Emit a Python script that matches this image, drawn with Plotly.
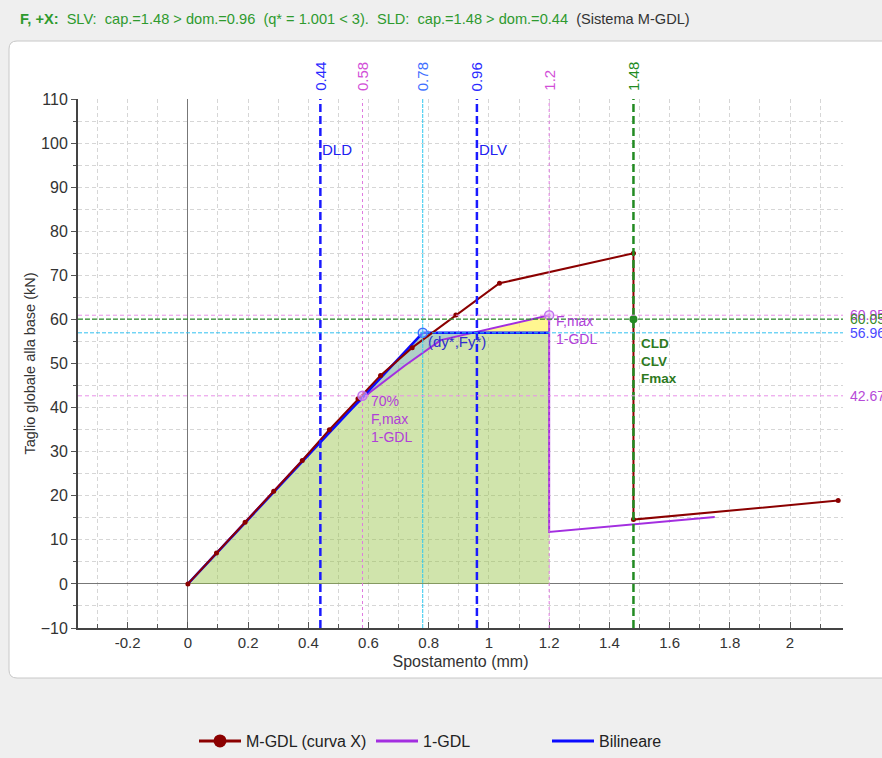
import numpy as np
import plotly.graph_objects as go

# ---------------- data ----------------
mgdl_x = [0, 0.095, 0.19, 0.285, 0.38, 0.47, 0.565, 0.64, 0.745, 0.89, 1.035, 1.48, 1.48, 2.16]
mgdl_y = [0, 7.0, 14.0, 21.0, 28.0, 35.0, 42.0, 47.3, 53.6, 61.0, 68.2, 75.0, 14.6, 18.9]

gdl1_x = [0, 0.46, 0.52, 0.605, 0.72, 0.84, 1.2, 1.2, 1.75]
gdl1_y = [0, 34.1, 38.4, 43.5, 49.5, 55.3, 60.95, 11.8, 15.2]

bil_x = [0, 0.78, 1.2]
bil_y = [0, 56.96, 56.96]

vline_pos = [0.44, 0.58, 0.78, 0.96, 1.2, 1.48]
vline_lbl = ["0.44", "0.58", "0.78", "0.96", "1.2", "1.48"]
vline_col = ["#2a2aff", "#d24fd8", "#3f6fff", "#2a2aff", "#d24fd8", "#228b22"]

hline_pos = [60.95, 60.05, 56.96, 42.67]
hline_lbl = ["60.95", "60.05", "56.96", "42.67"]
hline_txtcol = ["#b64ad8", "#3a8a2a", "#4a4aff", "#b64ad8"]

x_ticks = [-0.2, 0, 0.2, 0.4, 0.6, 0.8, 1, 1.2, 1.4, 1.6, 1.8, 2]
y_ticks = [-10, 0, 10, 20, 30, 40, 50, 60, 70, 80, 90, 100, 110]

dy_star, fy_star = 0.78, 56.96
f70_x, f70_y = 0.58, 42.67
fmax1_x, fmax1_y = 1.2, 60.95
cap_x, cap_y = 1.48, 60.05

# ---------------- geometry helpers ----------------
W, H = 882, 758
L, R, T, B = 78, 843, 99, 628
def xp(px): return (px - L) / (R - L)
def yp(py): return (B - py) / (B - T)

RED = "#8b0000"
PURP = "#a32ee0"
BLUE = "#0a0aff"

fig = go.Figure()

# green area under bilinear
fig.add_trace(go.Scatter(
    x=bil_x + [bil_x[-1], 0], y=bil_y + [0, 0], fill="toself", mode="none",
    fillcolor="rgba(150,195,70,0.45)", showlegend=False, hoverinfo="skip"))

# monotonic part of 1-GDL (before the drop)
g_x = np.array(gdl1_x[:7]); g_y = np.array(gdl1_y[:7])
grid = np.linspace(f70_x, 1.2, 400)
g_i = np.interp(grid, g_x, g_y)
b_i = np.interp(grid, bil_x, bil_y)
d = b_i - g_i
cross = grid[np.argmax(d < 0)]
m1 = grid <= cross
fig.add_trace(go.Scatter(
    x=list(grid[m1]) + list(grid[m1][::-1]), y=list(b_i[m1]) + list(g_i[m1][::-1]),
    fill="toself", mode="none", fillcolor="rgba(120,175,245,0.38)",
    showlegend=False, hoverinfo="skip"))
m2 = grid >= cross
fig.add_trace(go.Scatter(
    x=list(grid[m2]) + list(grid[m2][::-1]), y=list(g_i[m2]) + list(b_i[m2][::-1]),
    fill="toself", mode="none", fillcolor="rgba(255,240,70,0.6)",
    showlegend=False, hoverinfo="skip"))

# curves
fig.add_trace(go.Scatter(x=gdl1_x, y=gdl1_y, mode="lines", line=dict(color=PURP, width=2),
                         showlegend=False, hoverinfo="skip"))
fig.add_trace(go.Scatter(x=bil_x, y=bil_y, mode="lines", line=dict(color=BLUE, width=2.5),
                         showlegend=False, hoverinfo="skip"))
fig.add_trace(go.Scatter(x=mgdl_x, y=mgdl_y, mode="lines+markers",
                         line=dict(color=RED, width=2), marker=dict(color=RED, size=5),
                         showlegend=False, hoverinfo="skip"))

# special markers
fig.add_trace(go.Scatter(x=[f70_x, fmax1_x], y=[f70_y, fmax1_y], mode="markers",
                         marker=dict(size=9, color="rgba(230,190,250,0.6)",
                                     line=dict(color="#c070f0", width=1.5)),
                         showlegend=False, hoverinfo="skip"))
fig.add_trace(go.Scatter(x=[dy_star], y=[fy_star], mode="markers",
                         marker=dict(size=9, color="rgba(180,200,255,0.5)",
                                     line=dict(color="#3f6fff", width=1.5)),
                         showlegend=False, hoverinfo="skip"))
fig.add_trace(go.Scatter(x=[cap_x], y=[cap_y], mode="markers",
                         marker=dict(size=8, color="#228b22"),
                         showlegend=False, hoverinfo="skip"))

# legend-only traces
fig.add_trace(go.Scatter(x=[None], y=[None], mode="lines+markers", name="M-GDL (curva X)",
                         line=dict(color=RED, width=3), marker=dict(color=RED, size=13),
                         legend="legend"))
fig.add_trace(go.Scatter(x=[None], y=[None], mode="lines", name="1-GDL",
                         line=dict(color=PURP, width=3), legend="legend2"))
fig.add_trace(go.Scatter(x=[None], y=[None], mode="lines", name="Bilineare",
                         line=dict(color=BLUE, width=3), legend="legend3"))

shapes = []
# white rounded panel
x0, x1 = xp(9), xp(905)
y0, y1 = yp(678), yp(41)
rx, ry = 8 / (R - L), 8 / (B - T)
path = (f"M {x0+rx},{y1} L {x1},{y1} L {x1},{y0} L {x0+rx},{y0} "
        f"Q {x0},{y0} {x0},{y0+ry} L {x0},{y1-ry} Q {x0},{y1} {x0+rx},{y1} Z")
shapes.append(dict(type="path", path=path, xref="paper", yref="paper",
                   fillcolor="white", line=dict(color="#c8c8c8", width=1), layer="below"))

# vertical reference lines
vstyle = {
    0.44: dict(color="#1a1aff", width=2.5, dash="8px,4px"),
    0.58: dict(color="#e07ae0", width=1, dash="3px,3px"),
    0.78: dict(color="#30c8f0", width=1, dash="4px,1px"),
    0.96: dict(color="#1a1aff", width=2.5, dash="8px,4px"),
    1.2: dict(color="#e07ae0", width=1, dash="3px,3px"),
    1.48: dict(color="#228b22", width=2.5, dash="8px,4px"),
}
for v in vline_pos:
    shapes.append(dict(type="line", xref="x", yref="paper", x0=v, x1=v, y0=0, y1=1,
                       line=vstyle[v], layer="above"))

hstyle = {
    60.95: dict(color="#e890e8", width=1, dash="4px,3px"),
    60.05: dict(color="#2e8b2e", width=1.3, dash="5px,2px"),
    56.96: dict(color="#30c0f0", width=1, dash="4px,2px"),
    42.67: dict(color="#e890e8", width=1, dash="4px,3px"),
}
for h in hline_pos:
    shapes.append(dict(type="line", xref="paper", yref="y", x0=0, x1=1, y0=h, y1=h,
                       line=hstyle[h], layer="above"))

ann = []
FONT = "Liberation Sans, Arial, sans-serif"
# header
ann.append(dict(
    xref="paper", yref="paper", x=xp(18), y=yp(19), xanchor="left", yanchor="middle",
    showarrow=False, font=dict(family=FONT, size=14.6, color="#2e9a2e"),
    text=("<b>F, +X:</b>&nbsp;&nbsp;SLV:&nbsp;&nbsp;cap.=1.48 &gt; dom.=0.96&nbsp;&nbsp;(q* = 1.001 &lt; 3)."
          "&nbsp;&nbsp;SLD:&nbsp;&nbsp;cap.=1.48 &gt; dom.=0.44&nbsp;&nbsp;"
          "<span style='color:#333333'>(Sistema M-GDL)</span>")))

# top rotated labels for vertical lines
for v, lab, c in zip(vline_pos, vline_lbl, vline_col):
    ann.append(dict(xref="x", yref="paper", x=v, y=yp(93), xanchor="center", yanchor="bottom",
                    textangle=-90, showarrow=False, text=lab,
                    font=dict(family=FONT, size=15, color=c)))

# right labels for horizontal lines
for h, lab, c in zip(hline_pos, hline_lbl, hline_txtcol):
    ann.append(dict(xref="paper", yref="y", x=xp(848), y=h, xanchor="left", yanchor="middle",
                    showarrow=False, text=lab, font=dict(family=FONT, size=14, color=c)))

# in-plot labels
ann.append(dict(xref="x", yref="y", x=0.44, y=98.5, xanchor="left", yanchor="middle",
                showarrow=False, text="DLD", font=dict(family=FONT, size=15, color="#2020f0")))
ann.append(dict(xref="x", yref="y", x=0.96, y=98.5, xanchor="left", yanchor="middle",
                showarrow=False, text="DLV", font=dict(family=FONT, size=15, color="#2020f0")))
ann.append(dict(xref="x", yref="y", x=dy_star + 0.01, y=fy_star - 1.9, xanchor="left",
                yanchor="middle", showarrow=False, text="(dy*,Fy*)",
                font=dict(family=FONT, size=15, color="#3030d0")))
ann.append(dict(xref="x", yref="y", x=fmax1_x + 0.015, y=fmax1_y + 0.9, xanchor="left",
                yanchor="top", align="left", showarrow=False, text="F,max<br>1-GDL",
                font=dict(family=FONT, size=14, color="#b040d8")))
ann.append(dict(xref="x", yref="y", x=f70_x + 0.02, y=f70_y + 1.0, xanchor="left",
                yanchor="top", align="left", showarrow=False, text="70%<br>F,max<br>1-GDL",
                font=dict(family=FONT, size=14, color="#b040d8")))
ann.append(dict(xref="x", yref="y", x=cap_x + 0.02, y=cap_y - 3.3, xanchor="left",
                yanchor="top", align="left", showarrow=False, text="<b>CLD<br>CLV<br>Fmax</b>",
                font=dict(family=FONT, size=13.5, color="#2e7a1e")))

leg_common = dict(orientation="h", yanchor="middle", y=yp(741), xanchor="left", itemwidth=42,
                  bgcolor="rgba(0,0,0,0)", font=dict(family=FONT, size=16, color="#222222"))

fig.update_layout(
    width=W, height=H,
    margin=dict(l=L, r=W - R, t=T, b=H - B, pad=0, autoexpand=False),
    paper_bgcolor="#efefef", plot_bgcolor="rgba(0,0,0,0)",
    font=dict(family=FONT, size=13, color="#333333"),
    shapes=shapes, annotations=ann,
    legend=dict(x=xp(194), **leg_common),
    legend2=dict(x=xp(371), **leg_common),
    legend3=dict(x=xp(547), **leg_common),
    xaxis=dict(range=[-0.365, 2.176], tickvals=x_ticks, ticktext=[("%g" % t) for t in x_ticks],
               showline=True, linewidth=2, linecolor="#444444",
               ticks="inside", ticklen=6, tickcolor="#555555",
               showgrid=True, gridcolor="#d6d6d6", griddash="4px,3px",
               zeroline=True, zerolinecolor="#777777", zerolinewidth=1,
               minor=dict(dtick=0.1, tick0=0, showgrid=True, gridcolor="#d6d6d6",
                          griddash="4px,3px", ticks="inside", ticklen=4, tickcolor="#555555"),
               title=dict(text="Spostamento (mm)", font=dict(size=16, color="#333333"), standoff=6),
               tickfont=dict(size=15, color="#333333")),
    yaxis=dict(range=[-10, 110], tickvals=y_ticks,
               showline=True, linewidth=2, linecolor="#444444",
               ticks="outside", ticklen=5, tickcolor="#555555",
               showgrid=True, gridcolor="#d6d6d6", griddash="4px,3px",
               zeroline=True, zerolinecolor="#777777", zerolinewidth=1,
               minor=dict(dtick=5, tick0=0, showgrid=True, gridcolor="#d6d6d6",
                          griddash="4px,3px", ticks="outside", ticklen=3, tickcolor="#555555"),
               title=dict(text="Taglio globale alla base (kN)", font=dict(size=14.5, color="#333333"),
                          standoff=2),
               tickfont=dict(size=16, color="#333333")),
)

fig.write_html("out.html")
